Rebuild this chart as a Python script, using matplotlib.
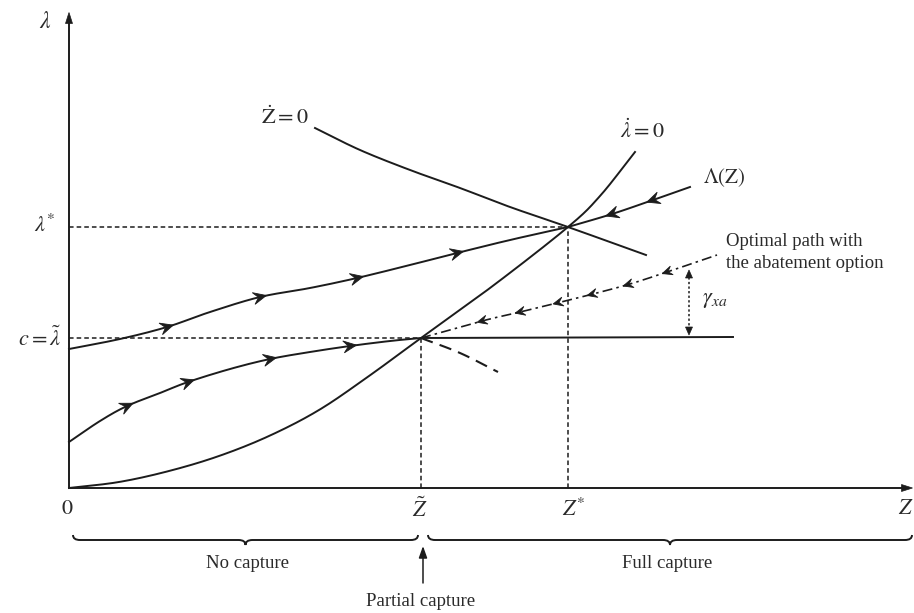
import numpy as np
import matplotlib
matplotlib.use('Agg')
import matplotlib.pyplot as plt
from matplotlib.patches import Polygon, PathPatch
from matplotlib.path import Path

plt.rcParams['font.family'] = ['Liberation Serif', 'DejaVu Serif']
plt.rcParams['mathtext.fontset'] = 'stix'

# ---------------- data (chart units, origin at axis origin) ----------------
lam_dot_x = [0, 50, 100, 150, 200, 250, 300, 352, 425, 499, 531, 566]
lam_dot_y = [0, 6, 17, 32, 52, 78, 112, 150, 203, 261, 292, 336]

z_dot_x = [246, 291, 341, 391, 441, 499, 577]
z_dot_y = [360, 338, 318, 300, 281, 261, 233]

upper_x = [0, 51, 98, 141, 191, 241, 288, 341, 388, 441, 499]
upper_y = [139, 149, 161, 176, 191, 200, 210, 223, 235, 248, 261]

saddle_x = [499, 543, 584, 621]
saddle_y = [261, 274, 288, 301]

lower_x = [0, 31, 58, 91, 119, 161, 201, 241, 281, 321, 352]
lower_y = [46, 67, 82, 95, 106, 119, 129, 136, 142, 147, 150]

capture_x = [352, 664]
capture_y = [150, 151]

abate_x = [352, 413, 451, 488, 524, 561, 598, 648]
abate_y = [150, 167, 176, 185, 194, 204, 216, 233]

branch_x = [352, 391, 429]
branch_y = [150, 135, 116]

lam_star, lam_tilde = 261, 150
z_tilde, z_star = 352, 499
gamma_x, gamma_lo, gamma_hi = 620, 153, 218

arrows_upper = [98, 191, 288, 388]
arrows_saddle = [543, 584]
arrows_lower = [58, 119, 201, 281]
arrows_capture = [439, 523, 596]
arrows_abate = [413, 451, 489, 523, 559, 598]

col = '#1c1c1c'
tcol = '#2a2a2a'

# ---------------- helpers ----------------
def smooth(xs, ys, n=24):
    P = np.column_stack([xs, ys]).astype(float)
    if len(P) < 3:
        return P
    P = np.vstack([2 * P[0] - P[1], P, 2 * P[-1] - P[-2]])
    out = []
    for i in range(1, len(P) - 2):
        p0, p1, p2, p3 = P[i - 1], P[i], P[i + 1], P[i + 2]
        t = np.linspace(0, 1, n, endpoint=False)[:, None]
        out.append(0.5 * ((2 * p1) + (-p0 + p2) * t + (2 * p0 - 5 * p1 + 4 * p2 - p3) * t ** 2
                          + (-p0 + 3 * p1 - 3 * p2 + p3) * t ** 3))
    out.append(P[-2][None])
    return np.vstack(out)


def head(ax, p, d, L=13.0, W=6.0, notch=5.0, style='stealth', lw=1.0):
    p = np.asarray(p, float)
    d = np.asarray(d, float)
    d = d / np.linalg.norm(d)
    nrm = np.array([-d[1], d[0]])
    tip = p + d * L / 2
    b1 = p - d * L / 2 + nrm * W
    b2 = p - d * L / 2 - nrm * W
    if style == 'stealth':
        nb = p - d * (L / 2 - notch)
        ax.add_patch(Polygon([tip, b1, nb, b2], closed=True, fc=col, ec=col, lw=0.6, zorder=5))
    elif style == 'tri':
        ax.add_patch(Polygon([tip, b1, b2], closed=True, fc=col, ec=col, lw=0.5, zorder=5))
    else:
        ax.plot([b1[0], tip[0], b2[0]], [b1[1], tip[1], b2[1]], color=col, lw=lw,
                solid_joinstyle='miter', zorder=5)


def arrows_on(ax, C, xs, forward=True, **kw):
    for x in xs:
        i = int(np.argmin(np.abs(C[:, 0] - x)))
        i = min(max(i, 1), len(C) - 2)
        y = np.interp(x, C[:, 0], C[:, 1])
        d = C[i + 1] - C[i - 1]
        if not forward:
            d = -d
        head(ax, (x, y), d, **kw)


def brace(ax, x0, x1, y, h=10, r=7):
    xm = (x0 + x1) / 2
    verts = [(x0, y + h / 2), (x0, y), (x0 + r, y), (xm - r, y), (xm, y), (xm, y - h / 2),
             (xm, y), (xm + r, y), (x1 - r, y), (x1, y), (x1, y + h / 2)]
    codes = [Path.MOVETO, Path.CURVE3, Path.CURVE3, Path.LINETO, Path.CURVE3, Path.CURVE3,
             Path.CURVE3, Path.CURVE3, Path.LINETO, Path.CURVE3, Path.CURVE3]
    ax.add_patch(PathPatch(Path(verts, codes), fc='none', ec=col, lw=1.4))


# ---------------- figure ----------------
fig = plt.figure(figsize=(9.14, 6.13), dpi=100)
ax = fig.add_axes([0, 0, 1, 1])
ax.set_xlim(-69, 845)
ax.set_ylim(-125, 488)
ax.axis('off')

LW = 1.4

# axes
ax.plot([0, 836], [0, 0], color=col, lw=LW)
head(ax, (838, 0), (1, 0), L=11, W=3.5, style='tri')
ax.plot([0, 0], [0, 468], color=col, lw=LW)
head(ax, (0, 470), (0, 1), L=11, W=3.5, style='tri')

# guide lines
dash = dict(color=col, lw=1.1, dashes=(3, 2))
ax.plot([0, z_star], [lam_star, lam_star], **dash)
ax.plot([0, z_tilde], [lam_tilde, lam_tilde], **dash)
ax.plot([z_tilde, z_tilde], [0, lam_tilde], **dash)
ax.plot([z_star, z_star], [0, lam_star], **dash)

# curves
C_lam = smooth(lam_dot_x, lam_dot_y)
ax.plot(C_lam[:, 0], C_lam[:, 1], color=col, lw=LW)
C_z = smooth(z_dot_x, z_dot_y)
ax.plot(C_z[:, 0], C_z[:, 1], color=col, lw=LW)
C_up = smooth(upper_x, upper_y)
ax.plot(C_up[:, 0], C_up[:, 1], color=col, lw=LW)
C_sad = smooth(saddle_x, saddle_y)
ax.plot(C_sad[:, 0], C_sad[:, 1], color=col, lw=LW)
C_low = smooth(lower_x, lower_y)
ax.plot(C_low[:, 0], C_low[:, 1], color=col, lw=LW)
C_cap = np.column_stack([capture_x, capture_y]).astype(float)
ax.plot(C_cap[:, 0], C_cap[:, 1], color=col, lw=LW)
C_ab = smooth(abate_x, abate_y)
ax.plot(C_ab[:, 0], C_ab[:, 1], color=col, lw=1.2, dashes=(6, 2.5, 1.5, 2.5))
C_br = smooth(branch_x, branch_y)
ax.plot(C_br[:, 0], C_br[:, 1], color=col, lw=1.5, dashes=(6, 3.5))

# arrowheads
arrows_on(ax, C_up, arrows_upper, forward=True)
arrows_on(ax, C_sad, arrows_saddle, forward=False)
arrows_on(ax, C_low, arrows_lower, forward=True)
arrows_on(ax, C_cap, arrows_capture, forward=False)
arrows_on(ax, C_ab, arrows_abate, forward=False, L=10, W=4.5, notch=4)

# gamma double arrow
ax.plot([gamma_x, gamma_x], [gamma_lo + 5, gamma_hi - 5], color=col, lw=1.1, dashes=(1.5, 1.5))
head(ax, (gamma_x, gamma_hi - 4), (0, 1), L=8, W=3.5, style='tri')
head(ax, (gamma_x, gamma_lo + 4), (0, -1), L=8, W=3.5, style='tri')

# braces and partial capture arrow
brace(ax, 4, 349, -52)
brace(ax, 359, 843, -52)
ax.annotate('', xy=(354, -58), xytext=(354, -95),
            arrowprops=dict(arrowstyle='-|>,head_length=0.7,head_width=0.25', color=col, lw=1.1,
                            shrinkA=0, shrinkB=0))

# labels
ms = 16
ax.text(-24, 466, r'$\lambda$', fontsize=17, ha='center', va='center', color=tcol)
ax.text(-24, 262, r'$\lambda^{*}$', fontsize=ms, ha='center', va='center', color=tcol)
ax.text(-8, 149, r'$c=\tilde{\lambda}$', fontsize=ms, ha='right', va='center', color=tcol)
ax.text(-2, -22, r'$0$', fontsize=ms, ha='center', va='center', color=tcol)
ax.text(z_tilde - 1, -22, r'$\tilde{Z}$', fontsize=ms, ha='center', va='center', color=tcol)
ax.text(z_star + 6, -22, r'$Z^{*}$', fontsize=ms, ha='center', va='center', color=tcol)
ax.text(845, -22, r'$Z$', fontsize=ms, ha='right', va='center', color=tcol)
ax.text(216, 370, r'$\dot{\mathrm{Z}}=0$', fontsize=ms, ha='center', va='center', color=tcol)
ax.text(573, 357, r'$\dot{\lambda}=0$', fontsize=ms, ha='center', va='center', color=tcol)
ax.text(634, 310, r'$\Lambda(\mathrm{Z})$', fontsize=15, ha='left', va='center', color=tcol)
ax.text(657, 246, 'Optimal path with', fontsize=13.5, ha='left', va='center', color=tcol)
ax.text(657, 225, 'the abatement option', fontsize=13.5, ha='left', va='center', color=tcol)
ax.text(633, 188, r'$\gamma_{xa}$', fontsize=ms, ha='left', va='center', color=tcol)
ax.text(178, -75, 'No capture', fontsize=13.5, ha='center', va='center', color=tcol)
ax.text(598, -75, 'Full capture', fontsize=13.5, ha='center', va='center', color=tcol)
ax.text(352, -114, 'Partial capture', fontsize=13.5, ha='center', va='center', color=tcol)

fig.savefig('out.png', dpi=100)
